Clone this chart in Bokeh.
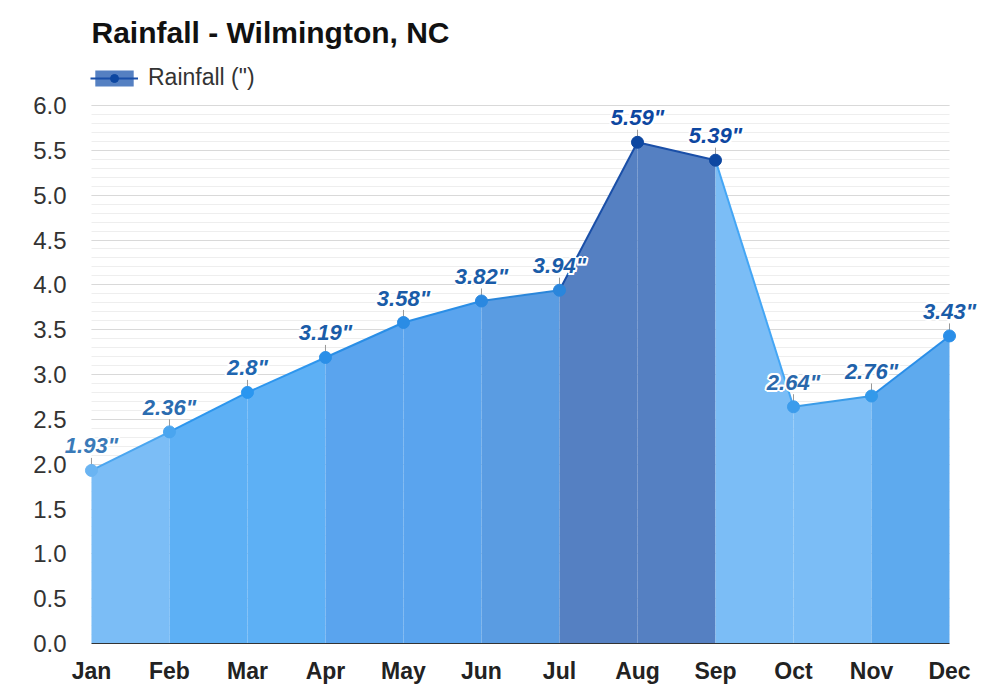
from bokeh.plotting import figure
from bokeh.models import (FixedTicker, Range1d, LabelSet, Legend, LegendItem,
                          ColumnDataSource, NumeralTickFormatter)
from bokeh.core.properties import value
from bokeh.embed import file_html
from bokeh.resources import INLINE

months = ["Jan", "Feb", "Mar", "Apr", "May", "Jun", "Jul", "Aug", "Sep", "Oct", "Nov", "Dec"]
rain = [1.93, 2.36, 2.8, 3.19, 3.58, 3.82, 3.94, 5.59, 5.39, 2.64, 2.76, 3.43]
y_ticks = [0.0, 0.5, 1.0, 1.5, 2.0, 2.5, 3.0, 3.5, 4.0, 4.5, 5.0, 5.5, 6.0]

# styles
seg_fill = ["#7bbdf6", "#5db0f5", "#5db0f5", "#5aa4ee", "#5aa4ee", "#5a9ce2",
            "#5580c2", "#5580c2", "#7bbdf6", "#7bbdf6", "#5eaaee"]
seg_line = ["#4ba6f0", "#2d96ee", "#2d96ee", "#2a8ee6", "#2a8ee6", "#2a86da",
            "#1a4fa8", "#1a4fa8", "#44a6f5", "#3b9ce8", "#2a8ee8"]
pt_color = ["#6ab4f2", "#4aa5ef", "#2a96f0", "#2a8fe8", "#2a8ce5", "#2a88e0",
            "#2a86dc", "#0d47a1", "#0d47a1", "#3c9cec", "#3399ea", "#2a8ee8"]
lbl_color = ["#3a7ab8", "#2b6cb0", "#2066b0", "#1a5ca8", "#1a5ca8", "#1a5ca8",
             "#1a5ca8", "#0d47a1", "#0d47a1", "#2a68ab", "#1f62aa", "#1a5ca8"]

FONT = "Liberation Sans"
xs = list(range(len(months)))

p = figure(width=984, height=690, x_range=Range1d(-0.397, 11.423), y_range=Range1d(0, 6.502),
           output_backend="svg", toolbar_location=None,
           min_border_left=60, min_border_right=2, min_border_top=60, min_border_bottom=47)
p.outline_line_color = None
p.background_fill_color = "white"
p.border_fill_color = "white"

# title
p.title.text = "Rainfall - Wilmington, NC"
p.title.text_font = FONT
p.title.text_font_size = "30px"
p.title.text_font_style = "bold"
p.title.text_color = "#111111"
p.title.align = "left"
p.title.offset = 31
p.title.standoff = 23

# axes
p.xaxis.ticker = FixedTicker(ticks=xs)
p.xaxis.bounds = (0, 11)
p.xaxis.major_label_overrides = {i: m for i, m in enumerate(months)}
p.xaxis.major_tick_line_color = None
p.xaxis.minor_tick_line_color = None
p.xaxis.major_tick_out = 0
p.xaxis.axis_line_color = "#333333"
p.xaxis.axis_line_width = 1
p.xaxis.major_label_text_font = FONT
p.xaxis.major_label_text_font_size = "23px"
p.xaxis.major_label_text_font_style = "bold"
p.xaxis.major_label_text_color = "#222222"
p.xaxis.major_label_standoff = 14

p.yaxis.ticker = FixedTicker(ticks=y_ticks, minor_ticks=[i / 10 for i in range(61)])
p.yaxis.formatter = NumeralTickFormatter(format="0.0")
p.yaxis.axis_line_color = None
p.yaxis.major_tick_line_color = None
p.yaxis.minor_tick_line_color = None
p.yaxis.major_tick_out = 0
p.yaxis.major_label_text_font = FONT
p.yaxis.major_label_text_font_size = "24px"
p.yaxis.major_label_text_color = "#333333"
p.yaxis.major_label_standoff = -10

p.xgrid.visible = False
p.ygrid.grid_line_color = "#d9d9d9"
p.ygrid.minor_grid_line_color = "#eeeeee"
p.ygrid.cross_bounds = (0, 11)
p.ygrid.bounds = (0, 6)

# area segments and lines
for i in range(len(rain) - 1):
    p.varea(x=[xs[i], xs[i + 1]], y1=[0, 0], y2=[rain[i], rain[i + 1]],
            fill_color=seg_fill[i], fill_alpha=1.0)
for i in range(len(rain) - 1):
    p.line(x=[xs[i], xs[i + 1]], y=[rain[i], rain[i + 1]],
           line_color=seg_line[i], line_width=2)

# leader ticks
p.segment(x0=xs, y0=rain, x1=xs, y1=[v + 0.14 for v in rain], line_color="#999999", line_width=1)

p.scatter(x=xs, y=rain, size=12, fill_color=pt_color, line_color=pt_color)

src = ColumnDataSource(dict(x=xs, y=rain, t=[f'{v}"' for v in rain], c=lbl_color))
halo = [(-2, 0), (2, 0), (0, -2), (0, 2), (-1.5, -1.5), (1.5, -1.5), (-1.5, 1.5), (1.5, 1.5)]
for dx, dy in halo:
    p.add_layout(LabelSet(x="x", y="y", text="t", source=src, text_color="white",
                          text_font=value(FONT), text_font_size="22px",
                          text_font_style="bold italic",
                          text_align="center", text_baseline="bottom",
                          x_offset=dx, y_offset=12 + dy))
p.add_layout(LabelSet(x="x", y="y", text="t", source=src, text_color="c",
                      text_font=value(FONT), text_font_size="22px",
                      text_font_style="bold italic",
                      text_align="center", text_baseline="bottom", y_offset=12))

# legend
nan = float("nan")
r_area = p.varea(x=[nan], y1=[nan], y2=[nan], fill_color="#5580c2")
r_line = p.line(x=[nan], y=[nan], line_color="#1a4fa8", line_width=2)
r_dot = p.scatter(x=[nan], y=[nan], size=11, fill_color="#0d47a1", line_color="#0d47a1")
legend = Legend(items=[LegendItem(label='Rainfall (")', renderers=[r_area, r_line, r_dot])],
                location=(30, 552), padding=0, margin=0, border_line_color=None,
                background_fill_alpha=0, glyph_width=48, glyph_height=20, label_standoff=10,
                label_text_font=FONT, label_text_font_size="23px", label_text_color="#333333",
                label_height=20)
p.add_layout(legend, "center")

open("out.html", "w").write(file_html(p, INLINE))
